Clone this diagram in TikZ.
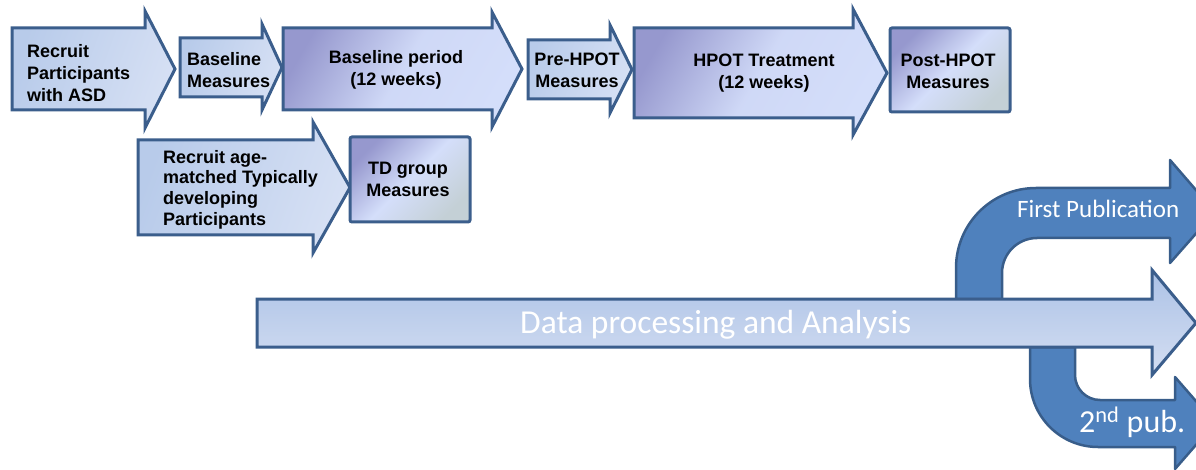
\documentclass[tikz,border=0pt]{standalone}
\usepackage{fontspec}
\setmainfont{Liberation Sans}
\newfontfamily\calfont{Carlito}
\definecolor{bord}{RGB}{59,94,140}
\definecolor{pubfill}{RGB}{79,129,189}
\definecolor{pubbord}{RGB}{56,93,138}
\definecolor{purp}{RGB}{150,152,206}
\definecolor{lite}{RGB}{212,222,250}
\definecolor{blueA}{RGB}{184,203,234}
\definecolor{blueB}{RGB}{214,224,244}
\definecolor{dataT}{RGB}{172,194,230}
\definecolor{dataB}{RGB}{212,222,242}
\definecolor{cornr}{RGB}{196,208,214}
\newcommand\rarrow[8][]{%
  \path[#1] (#2,#3) -- (#5,#3) -- (#5,#6) -- (#8,{(#3+#4)/2}) -- (#5,#7) -- (#5,#4) -- (#2,#4) -- cycle;}
\tikzset{
  box/.style={draw=bord, line width=3pt, line join=miter},
  lightfill/.style={left color=blueA, right color=blueB, shading angle=70},
  purpfill/.style={left color=purp, right color=lite, middle color=lite!92!purp, shading angle=60},
  cornerfill/.style={left color=purp, right color=cornr, middle color=lite, shading angle=45},
  lbl/.style={font=\fontsize{18}{22}\selectfont\bfseries, inner sep=0pt},
  pub/.style={draw=pubbord, line width=2.5pt, fill=pubfill, line join=round},
}
\begin{document}
\begin{tikzpicture}[x=1pt,y=-1pt]
\useasboundingbox (0,0) rectangle (1196,470);
\clip (0,0) rectangle (1196,470);
% top row
\rarrow[box,lightfill]{12}{28}{110}{145}{11}{128}{175}
\rarrow[box,lightfill]{180}{38}{97}{262}{24}{110}{282}
\rarrow[box,purpfill]{283}{28}{110}{492}{12}{127}{522}
\rarrow[box,lightfill]{528}{40}{99}{610}{25}{113}{632}
\rarrow[box,purpfill]{634}{28}{118}{853}{9}{135}{887}
\path[box,cornerfill,rounded corners=2pt] (890,28) rectangle (1010,112);
% second row
\rarrow[box,lightfill]{138}{140}{235}{313}{122}{253}{350}
\path[box,cornerfill,rounded corners=2pt] (350,137) rectangle (470,222);
% labels
\node[lbl, anchor=north west, align=left] (r1) at (27,44) {Recruit\\Participants\\with ASD};
\node[lbl, anchor=north west, align=left] (bm) at (187,52) {Baseline\\Measures};
\node[lbl, anchor=north, align=center] (bp) at (396,50) {Baseline period\\(12 weeks)};
\node[lbl, anchor=north, align=center] (pre) at (577,53) {Pre-HPOT\\Measures};
\node[lbl, anchor=north, align=center] (hp) at (764,54) {HPOT Treatment\\(12 weeks)};
\node[lbl, anchor=north, align=center] (post) at (948,54) {Post-HPOT\\Measures};
\node[lbl, anchor=north west, align=left, font=\fontsize{18}{20.7}\selectfont\bfseries] (r2) at (163,150) {Recruit age-\\matched Typically\\developing\\Participants};
\node[lbl, anchor=north, align=center] (td) at (408,162) {TD group\\Measures};
% publication arrows
\path[pub] (956,299) -- (956,268) arc[start angle=180,end angle=270,radius=80]
  -- (1170,188) -- (1170,160) -- (1215,212) -- (1170,263) -- (1170,238)
  -- (1037,238) arc[start angle=270,end angle=180,radius=35] -- (1002,299) -- cycle;
\path[pub] (1030,347) -- (1030,379) arc[start angle=180,end angle=90,radius=68]
  -- (1175,447) -- (1175,469) -- (1215,423) -- (1175,377) -- (1175,400)
  -- (1100,400) arc[start angle=90,end angle=180,radius=25] -- (1075,347) -- cycle;
% data arrow
\path[draw=bord, line width=3pt, top color=dataT, bottom color=dataB] (257,299) -- (1152,299) -- (1152,270) -- (1196,323) -- (1152,375) -- (1152,347) -- (257,347) -- cycle;
\node[anchor=base west, inner sep=0pt, text=white, font=\calfont\fontsize{33.5}{36}\selectfont] (data) at (520,333) {Data processing and Analysis};
\node[anchor=base west, inner sep=0pt, text=white, font=\calfont\fontsize{25}{28}\selectfont] (first) at (1017,218) {First Publication};
\node[anchor=base west, inner sep=0pt, text=white, font=\calfont\fontsize{32}{34}\selectfont] (second) at (1079,432) {2\textsuperscript{nd} pub.};
\end{tikzpicture}
\end{document}
